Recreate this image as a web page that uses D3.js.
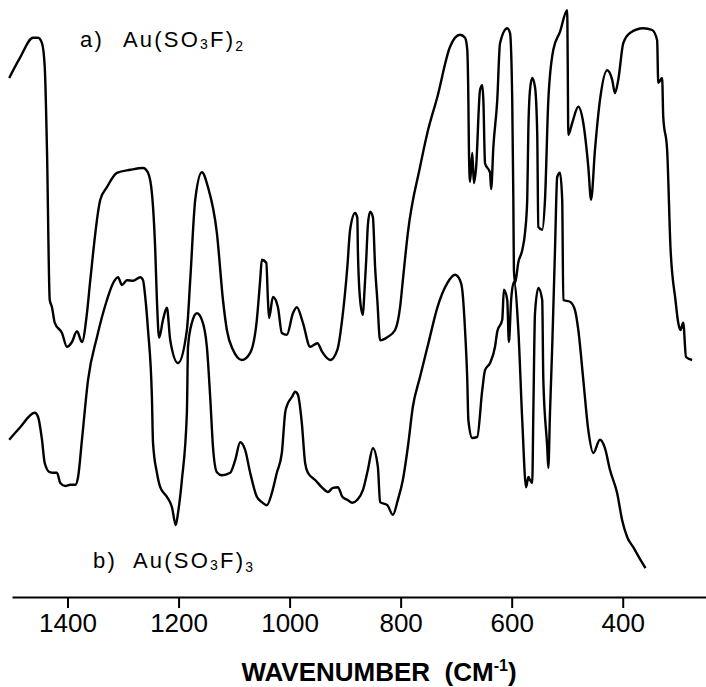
<!DOCTYPE html>
<html>
<head>
<meta charset="utf-8">
<script src="https://cdn.jsdelivr.net/npm/d3@7"></script>
<style>
    body { margin: 0; background: #fff; }
    #chart svg { display: block; }
    .trace { fill: none; stroke: #000; stroke-width: 2.4; stroke-linejoin: round; }
    .axis path, .axis line { stroke: #000; stroke-width: 2; }
    .axis text { font-family: "Liberation Sans", Arial, sans-serif; font-size: 26px; fill: #000; }
    .label { font-family: "Liberation Sans", Arial, sans-serif; font-size: 22px; letter-spacing: 2.2px; fill: #000; }
    .title { font-family: "Liberation Sans", Arial, sans-serif; font-size: 26px; font-weight: bold; fill: #000; }
</style>
</head>
<body>
<div id="chart"></div>
<script>
// spectrum a) Au(SO3F)2 : [wavenumber cm-1, relative transmittance]
const spectrumA = [
    [1505, 86.5], [1486, 89.8], [1462, 93.2], [1453, 93.2], [1446, 92.3], [1441, 88.3],
    [1437, 74.5], [1432, 49.5], [1428, 48.3], [1423, 45.7], [1410, 44.0], [1401, 41.7],
    [1392, 42.5], [1383, 44.3], [1374, 42.5], [1365, 47.3], [1359, 52.8], [1341, 66.2],
    [1329, 68.3], [1311, 70.7], [1287, 71.2], [1264, 71.5], [1255, 70.7], [1248, 67.3],
    [1242, 57.8], [1239, 49.5], [1235, 43.2], [1228, 46.2], [1221, 48.2], [1215, 42.8],
    [1201, 39.0], [1185, 44.5], [1179, 52.8], [1170, 66.2], [1158, 70.8], [1147, 68.3],
    [1131, 60.7], [1120, 49.5], [1113, 44.5], [1102, 41.2], [1086, 39.5], [1071, 40.7],
    [1059, 46.2], [1053, 52.8], [1050, 56.2], [1042, 55.7], [1039, 49.5], [1037, 46.5],
    [1030, 50.0], [1021, 48.3], [1014, 44.0], [1005, 43.7], [994, 47.3], [987, 48.3],
    [976, 45.7], [963, 41.7], [950, 42.3], [941, 40.8], [927, 39.5], [914, 41.2],
    [904, 47.3], [896, 55.0], [891, 61.2], [882, 64.0], [878, 63.2], [877, 57.8],
    [873, 49.5], [868, 47.0], [866, 49.5], [862, 56.2], [859, 62.0], [855, 64.2],
    [850, 63.3], [846, 55.0], [842, 49.5], [837, 42.8], [824, 43.3], [810, 44.5],
    [801, 48.3], [796, 52.8], [787, 60.7], [765, 71.7], [752, 77.3], [734, 83.3],
    [711, 91.7], [693, 93.7], [684, 93.2], [680, 91.2], [678, 82.8], [677, 74.5],
    [675, 69.2], [671, 74.0], [668, 69.0], [664, 71.7], [657, 84.5], [653, 85.3],
    [651, 82.8], [648, 72.3], [639, 70.7], [637, 68.0], [633, 75.0], [626, 82.8],
    [621, 92.3], [608, 94.8], [603, 94.0], [599, 82.8], [597, 66.2], [596, 54.5],
    [594, 52.3], [588, 55.8], [581, 57.8], [576, 60.7], [572, 66.2], [570, 77.8],
    [567, 84.5], [563, 86.5], [558, 85.0], [554, 77.3], [552, 61.7], [545, 61.2],
    [540, 66.2], [534, 82.8], [525, 91.2], [513, 94.2], [500, 97.8], [499, 88.3],
    [498, 77.0], [491, 79.0], [480, 81.7], [471, 79.0], [462, 71.7], [457, 66.2],
    [450, 74.5], [441, 82.8], [428, 87.8], [419, 86.2], [414, 84.0], [408, 86.2],
    [399, 92.3], [387, 94.0], [363, 94.8], [347, 94.5], [338, 92.8], [336, 85.7],
    [329, 86.5], [327, 80.0], [320, 74.5], [314, 58.3], [305, 49.5], [300, 45.7],
    [296, 44.5], [291, 45.7], [286, 40.0], [275, 39.5]
];

// spectrum b) Au(SO3F)3
const spectrumB = [
    [1505, 26.2], [1486, 28.2], [1459, 30.7], [1453, 30.0], [1446, 26.2], [1441, 22.3],
    [1432, 20.8], [1426, 20.7], [1419, 20.7], [1413, 19.0], [1404, 18.5], [1395, 18.7],
    [1386, 18.7], [1381, 20.0], [1374, 26.2], [1363, 36.2], [1347, 43.3], [1329, 49.5],
    [1318, 52.3], [1309, 53.3], [1302, 52.0], [1293, 52.8], [1282, 52.7], [1269, 53.3],
    [1264, 52.8], [1260, 50.0], [1255, 44.5], [1248, 33.3], [1246, 25.7], [1239, 20.7],
    [1233, 18.3], [1221, 16.7], [1212, 15.0], [1205, 12.0], [1201, 14.0], [1194, 19.5],
    [1185, 30.7], [1183, 41.7], [1176, 45.7], [1167, 47.3], [1158, 46.2], [1149, 41.7],
    [1143, 33.3], [1138, 25.0], [1131, 20.8], [1122, 20.3], [1107, 20.7], [1098, 22.8],
    [1089, 25.8], [1080, 24.5], [1071, 20.7], [1059, 16.7], [1050, 15.8], [1041, 15.3],
    [1032, 17.3], [1023, 20.7], [1014, 24.0], [1008, 30.7], [1003, 32.3], [996, 33.3],
    [990, 34.2], [985, 33.7], [978, 29.0], [972, 22.3], [967, 20.7], [954, 19.5],
    [941, 18.2], [931, 17.5], [922, 18.2], [913, 18.3], [905, 16.7], [896, 16.2],
    [887, 15.7], [878, 16.2], [868, 17.8], [859, 21.2], [850, 24.8], [841, 21.7],
    [837, 15.8], [824, 15.3], [814, 13.7], [805, 16.2], [796, 19.5], [787, 25.0],
    [778, 31.7], [765, 36.7], [750, 42.3], [734, 48.2], [716, 52.3], [702, 53.7],
    [693, 52.8], [689, 51.2], [684, 44.5], [680, 36.2], [678, 29.5], [671, 26.5],
    [662, 26.7], [653, 34.5], [648, 37.8], [639, 39.0], [630, 41.7], [626, 44.2],
    [617, 46.2], [614, 51.2], [608, 49.5], [605, 42.5], [601, 49.5], [596, 52.5],
    [588, 44.5], [581, 29.5], [574, 18.3], [570, 20.0], [567, 19.5], [563, 19.0],
    [561, 30.7], [558, 47.3], [552, 51.5], [545, 49.5], [543, 36.2], [536, 25.0],
    [534, 21.5], [531, 30.7], [527, 41.7], [522, 57.8], [518, 70.0], [513, 70.7],
    [509, 66.2], [507, 49.5], [495, 49.2], [486, 47.8], [480, 44.5], [471, 36.2],
    [462, 27.8], [453, 24.0], [441, 26.2], [432, 24.8], [423, 21.2], [410, 17.3],
    [401, 12.8], [392, 10.0], [381, 8.3], [368, 6.2], [359, 4.8]
];

const tickValues = [1400, 1200, 1000, 800, 600, 400];
const labelA = { tag: "a)", parts: ["Au(SO", "3", "F)", "2"] };
const labelB = { tag: "b)", parts: ["Au(SO", "3", "F)", "3"] };
const axisTitle = { main: "WAVENUMBER  (CM", sup: "-1", end: ")" };

function drawChart() {
    const width = 706;
    const height = 687;
    const axisY = 597;

    // ---------------------
    //      SCALES
    // ---------------------
    const xScale = d3.scaleLinear()
        .domain([1500, 250])
        .range([12, 706]);

    const yScale = d3.scaleLinear()
        .domain([0, 100])
        .range([axisY, -3]);

    const svg = d3.select("#chart")
        .append("svg")
        .attr("width", width)
        .attr("height", height)
        .attr("viewBox", `0 0 ${width} ${height}`);

    const line = d3.line()
        .x((d) => xScale(d[0]))
        .y((d) => yScale(d[1]))
        .curve(d3.curveMonotoneX);

    // Traces
    svg.append("path").attr("class", "trace").attr("d", line(spectrumA));
    svg.append("path").attr("class", "trace").attr("d", line(spectrumB));

    // Axis
    const xAxis = d3.axisBottom(xScale)
        .tickValues(tickValues)
        .tickSize(11)
        .tickSizeOuter(0)
        .tickPadding(6)
        .tickFormat(d3.format("d"));

    svg.append("g")
        .attr("class", "axis")
        .attr("transform", `translate(0, ${axisY})`)
        .call(xAxis);

    // Labels
    addFormula(svg, labelA, 80, 123, 47);
    addFormula(svg, labelB, 93, 133, 568);

    const title = svg.append("text")
        .attr("class", "title")
        .attr("x", 379)
        .attr("y", 681)
        .attr("text-anchor", "middle")
        .attr("xml:space", "preserve");
    title.append("tspan").text(axisTitle.main);
    title.append("tspan").attr("font-size", "16px").attr("dy", -10).text(axisTitle.sup);
    title.append("tspan").attr("dy", 10).text(axisTitle.end);
}

function addFormula(svg, lab, xTag, xFormula, y) {
    svg.append("text")
        .attr("class", "label")
        .attr("x", xTag)
        .attr("y", y)
        .text(lab.tag);

    const t = svg.append("text")
        .attr("class", "label")
        .attr("x", xFormula)
        .attr("y", y);
    t.append("tspan").text(lab.parts[0]);
    t.append("tspan").attr("font-size", "14px").attr("dy", 2).text(lab.parts[1]);
    t.append("tspan").attr("dy", -2).text(lab.parts[2]);
    t.append("tspan").attr("font-size", "14px").attr("dy", 4).text(lab.parts[3]);
}

document.addEventListener("DOMContentLoaded", drawChart);
</script>
</body>
</html>
